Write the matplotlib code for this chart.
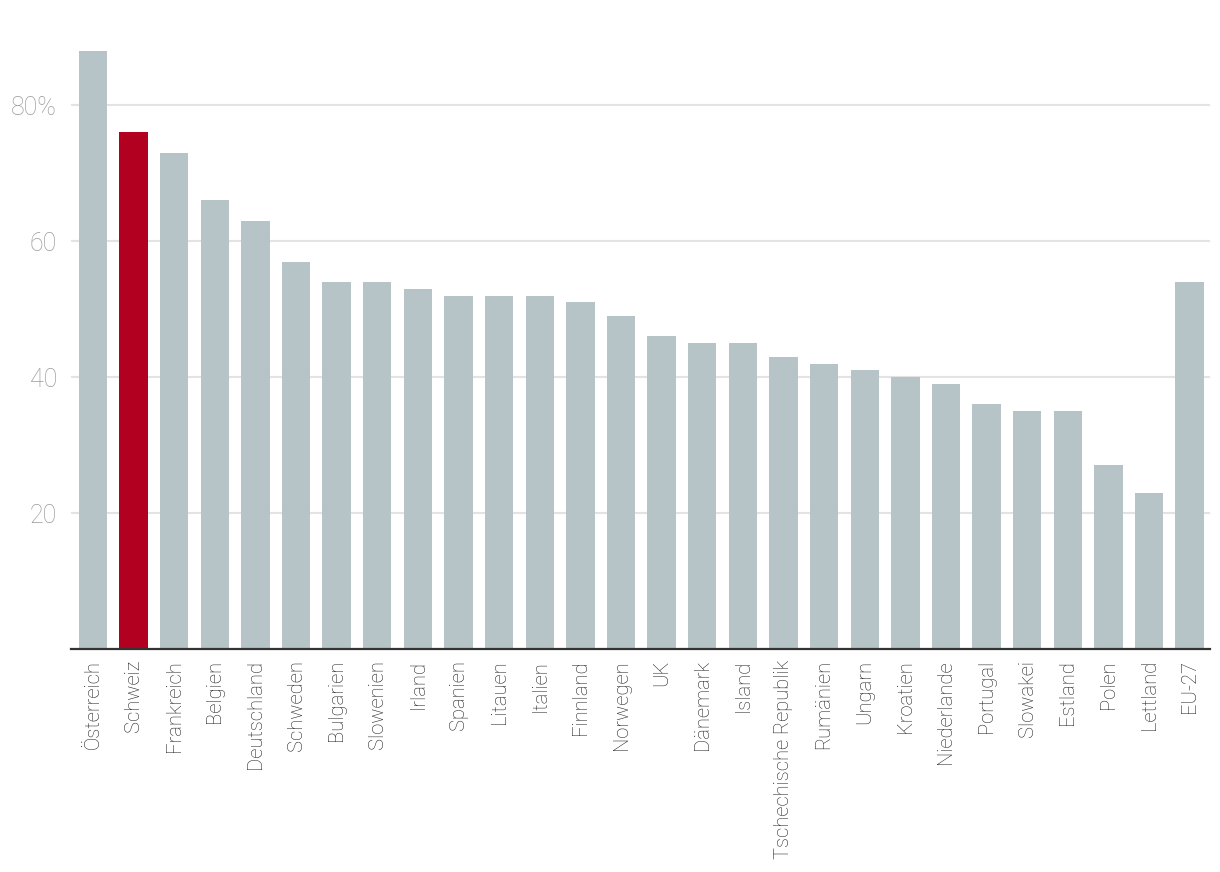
import matplotlib
matplotlib.use("Agg")
from matplotlib import pyplot as plt

countries = ["Österreich", "Schweiz", "Frankreich", "Belgien", "Deutschland", "Schweden",
             "Bulgarien", "Slowenien", "Irland", "Spanien", "Litauen", "Italien", "Finnland",
             "Norwegen", "UK", "Dänemark", "Island", "Tschechische Republik", "Rumänien",
             "Ungarn", "Kroatien", "Niederlande", "Portugal", "Slowakei", "Estland", "Polen",
             "Lettland", "EU-27"]
values = [88, 76, 73, 66, 63, 57, 54, 54, 53, 52, 52, 52, 51, 49, 46, 45, 45, 43, 42,
          41, 40, 39, 36, 35, 35, 27, 23, 54]
highlight = "Schweiz"
yticks = [20, 40, 60, 80]
ytick_labels = ["20", "40", "60", "80%"]

plt.rcParams['font.family'] = ['Roboto', 'DejaVu Sans']

fig = plt.figure(figsize=(12.2, 8.72), dpi=100)
ax = fig.add_axes([71/1220, 1-649/872, (1210-71)/1220, (649-40)/872])

colors = ["#b10020" if c == highlight else "#b6c4c8" for c in countries]
x = list(range(len(countries)))
ax.bar(x, values, width=0.7, color=colors, zorder=3)

ax.set_xlim(-0.54, len(countries) - 0.5)
ax.set_ylim(0, 89.6)
ax.set_yticks(yticks)
ax.set_yticklabels(ytick_labels, fontsize=18, color="#9a9a9a", fontweight="light")
ax.tick_params(axis="y", length=0, pad=10)
ax.set_xticks(x)
ax.set_xticklabels(countries, rotation=90, fontsize=14.5, color="#222222", fontweight="light")
ax.tick_params(axis="x", length=0, pad=8)

ax.grid(axis="y", color="#e3e3e3", linewidth=1.5, zorder=0)
for s in ["top", "right", "left"]:
    ax.spines[s].set_visible(False)
ax.spines["bottom"].set_color("#333333")
ax.spines["bottom"].set_linewidth(1.6)
ax.spines["bottom"].set_zorder(4)

fig.savefig("out.png", dpi=100)
